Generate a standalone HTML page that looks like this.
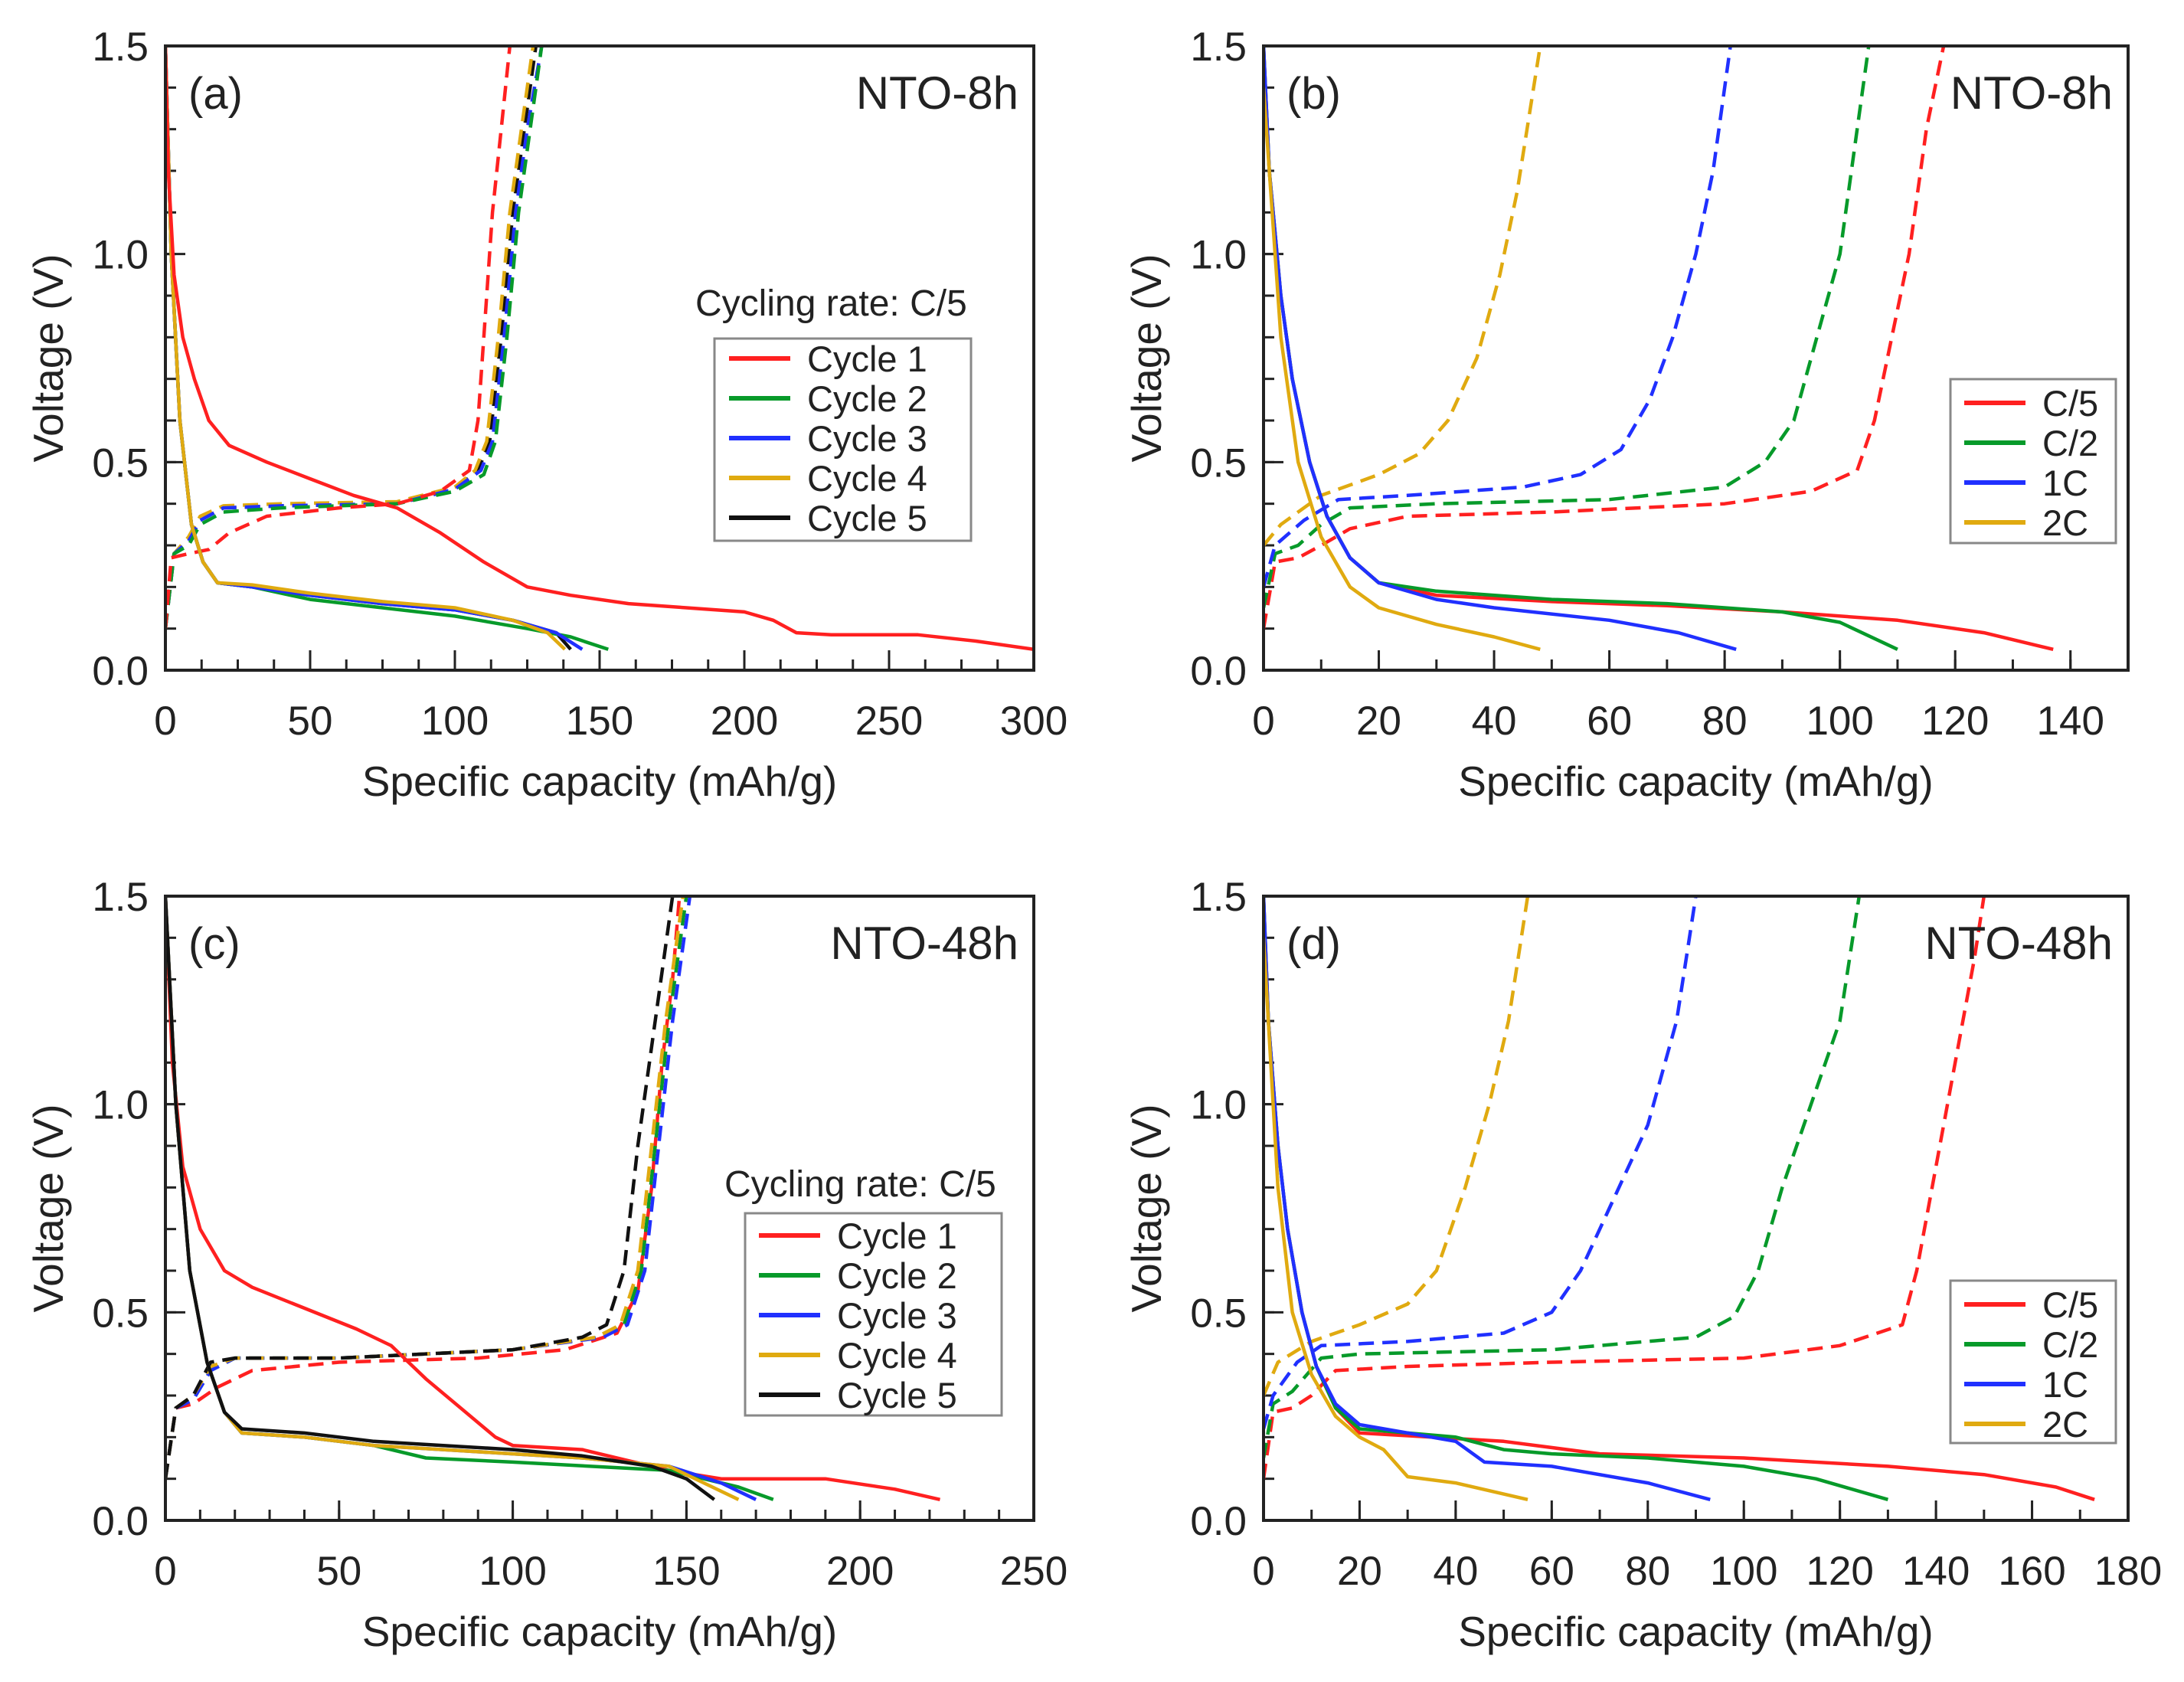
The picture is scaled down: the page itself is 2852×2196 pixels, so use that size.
<!DOCTYPE html>
<html><head><meta charset="utf-8">
<style>
html,body{margin:0;padding:0;background:#fff;}
svg{display:block;}
text{font-family:"Liberation Sans",Arial,sans-serif;fill:#222;}
</style></head>
<body>
<svg id="fig" width="2852" height="2196" viewBox="0 0 2852 2196" xmlns="http://www.w3.org/2000/svg"></svg>
<script>
// ---------- DATA ----------
const aDis1X=[0,1,3,6,10,15,22,35,50,65,80,95,110,125,140,160,180,200,210,218,230,260,280,300];
const aDis1Y=[1.5,1.2,0.95,0.8,0.7,0.6,0.54,0.5,0.46,0.42,0.39,0.33,0.26,0.2,0.18,0.16,0.15,0.14,0.12,0.09,0.085,0.085,0.07,0.05];
const aChg1X=[0,2,8,15,22,35,60,80,95,105,108,110,113,116,119];
const aChg1Y=[0.1,0.27,0.28,0.29,0.33,0.37,0.39,0.4,0.43,0.48,0.6,0.8,1.1,1.3,1.5];
const aDis2X=[0,2,5,9,13,18,30,50,75,100,125,140,153];
const aDis2Y=[1.5,1.0,0.6,0.35,0.26,0.21,0.2,0.17,0.15,0.13,0.1,0.08,0.05];
const aDis3X=[0,2,5,9,13,18,30,50,75,100,120,135,144];
const aDis3Y=[1.5,1.0,0.6,0.35,0.26,0.21,0.2,0.18,0.16,0.145,0.12,0.09,0.05];
const aDis4X=[0,2,5,9,13,18,30,50,75,100,120,132,138];
const aDis4Y=[1.5,1.0,0.6,0.35,0.26,0.21,0.205,0.185,0.165,0.15,0.12,0.09,0.05];
const aDis5X=[0,2,5,9,13,18,30,50,75,100,120,135,140];
const aDis5Y=[1.5,1.0,0.6,0.35,0.26,0.21,0.2,0.18,0.16,0.145,0.12,0.09,0.05];
const aChg2X=[0,3,8,12,20,40,80,100,110,114,118,122,126,130];
const aChg2Y=[0.1,0.28,0.3,0.35,0.38,0.39,0.4,0.43,0.47,0.55,0.8,1.1,1.3,1.5];
const aChg3X=[0,3,8,12,20,40,80,100,109,113,117,121,125,130];
const aChg3Y=[0.1,0.28,0.31,0.36,0.39,0.395,0.4,0.435,0.48,0.55,0.8,1.1,1.3,1.5];
const aChg4X=[0,3,8,12,20,40,80,100,107,111,115,119,123,127];
const aChg4Y=[0.1,0.28,0.32,0.37,0.395,0.4,0.405,0.44,0.48,0.55,0.8,1.1,1.3,1.5];
const aChg5X=[0,3,8,12,20,40,80,100,108,112,116,120,124,128];
const aChg5Y=[0.1,0.28,0.31,0.36,0.39,0.395,0.4,0.435,0.48,0.55,0.8,1.1,1.3,1.5];

const bDisC5X=[0,1,3,5,8,11,15,20,30,50,70,90,110,125,137];
const bDisC5Y=[1.5,1.2,0.9,0.7,0.5,0.37,0.27,0.21,0.18,0.165,0.155,0.14,0.12,0.09,0.05];
const bDisC2X=[0,1,3,5,8,11,15,20,30,50,70,90,100,110];
const bDisC2Y=[1.5,1.2,0.9,0.7,0.5,0.37,0.27,0.21,0.19,0.17,0.16,0.14,0.115,0.05];
const bDis1CX=[0,1,3,5,8,11,15,20,30,40,60,72,82];
const bDis1CY=[1.5,1.2,0.9,0.7,0.5,0.37,0.27,0.21,0.17,0.15,0.12,0.09,0.05];
const bDis2CX=[0,3,6,10,15,20,30,40,48];
const bDis2CY=[1.4,0.8,0.5,0.32,0.2,0.15,0.11,0.08,0.05];
const bChgC5X=[0,2,6,10,15,25,50,80,95,103,106,109,112,115,118];
const bChgC5Y=[0.1,0.26,0.27,0.3,0.34,0.37,0.38,0.4,0.43,0.48,0.6,0.8,1.0,1.3,1.5];
const bChgC2X=[0,2,6,10,15,30,60,80,87,92,96,100,103,105];
const bChgC2Y=[0.15,0.28,0.3,0.35,0.39,0.4,0.41,0.44,0.5,0.6,0.8,1.0,1.3,1.5];
const bChg1CX=[0,2,7,13,25,45,55,62,67,71,75,78,81];
const bChg1CY=[0.2,0.3,0.36,0.41,0.42,0.44,0.47,0.53,0.65,0.8,1.0,1.2,1.5];
const bChg2CX=[0,3,10,20,27,32,37,41,44,48];
const bChg2CY=[0.3,0.35,0.42,0.47,0.52,0.6,0.75,0.95,1.15,1.5];

const cDis1X=[0,2,5,10,17,25,40,55,65,75,85,95,100,120,145,160,190,210,223];
const cDis1Y=[1.5,1.1,0.85,0.7,0.6,0.56,0.51,0.46,0.42,0.34,0.27,0.2,0.18,0.17,0.12,0.1,0.1,0.075,0.05];
const cChg1X=[0,3,8,15,25,50,90,115,130,136,140,143,146,148];
const cChg1Y=[0.1,0.27,0.28,0.32,0.36,0.38,0.39,0.41,0.45,0.55,0.8,1.1,1.3,1.5];
const cDis2X=[0,3,7,12,17,22,40,60,75,100,145,165,175];
const cDis2Y=[1.5,1.0,0.6,0.38,0.26,0.21,0.2,0.18,0.15,0.14,0.12,0.08,0.05];
const cDis3X=[0,3,7,12,17,22,40,60,80,100,120,145,160,170];
const cDis3Y=[1.5,1.0,0.6,0.38,0.26,0.21,0.2,0.18,0.17,0.16,0.15,0.13,0.09,0.05];
const cDis4X=[0,3,7,12,17,22,40,60,80,100,120,145,155,165];
const cDis4Y=[1.5,1.0,0.6,0.38,0.26,0.21,0.2,0.18,0.17,0.16,0.15,0.13,0.09,0.05];
const cDis5X=[0,3,7,12,17,22,40,60,80,100,120,140,150,158];
const cDis5Y=[1.5,1.0,0.6,0.38,0.26,0.22,0.21,0.19,0.18,0.17,0.155,0.13,0.1,0.05];
const cChg2X=[0,3,8,13,20,50,100,125,132,137,141,145,150];
const cChg2Y=[0.1,0.27,0.29,0.36,0.39,0.39,0.41,0.44,0.47,0.6,0.9,1.2,1.5];
const cChg3X=[0,3,8,13,20,50,100,126,133,138,142,146,151];
const cChg3Y=[0.1,0.27,0.29,0.36,0.39,0.39,0.41,0.44,0.47,0.6,0.9,1.2,1.5];
const cChg4X=[0,3,8,13,20,50,100,124,131,136,140,144,149];
const cChg4Y=[0.1,0.27,0.3,0.37,0.39,0.39,0.41,0.44,0.47,0.6,0.9,1.2,1.5];
const cChg5X=[0,3,8,13,20,50,100,120,127,132,136,141,146];
const cChg5Y=[0.1,0.27,0.3,0.38,0.39,0.39,0.41,0.44,0.47,0.6,0.9,1.2,1.5];

const dDisC5X=[0,1,3,5,8,11,15,20,35,50,70,100,130,150,165,173];
const dDisC5Y=[1.5,1.2,0.9,0.7,0.5,0.37,0.27,0.21,0.2,0.19,0.16,0.15,0.13,0.11,0.08,0.05];
const dDisC2X=[0,1,3,5,8,11,15,20,40,50,60,80,100,115,130];
const dDisC2Y=[1.5,1.2,0.9,0.7,0.5,0.37,0.27,0.22,0.2,0.17,0.16,0.15,0.13,0.1,0.05];
const dDis1CX=[0,1,3,5,8,11,15,20,30,40,46,60,80,93];
const dDis1CY=[1.5,1.2,0.9,0.7,0.5,0.37,0.28,0.23,0.21,0.19,0.14,0.13,0.09,0.05];
const dDis2CX=[0,3,6,10,15,20,25,30,40,55];
const dDis2CY=[1.4,0.8,0.5,0.35,0.25,0.2,0.17,0.105,0.09,0.05];
const dChgC5X=[0,2,6,10,15,30,60,100,120,133,136,140,144,148,150];
const dChgC5Y=[0.1,0.26,0.27,0.3,0.36,0.37,0.38,0.39,0.42,0.47,0.6,0.85,1.1,1.35,1.5];
const dChgC2X=[0,2,6,12,20,60,90,98,103,108,114,120,124];
const dChgC2Y=[0.15,0.28,0.31,0.39,0.4,0.41,0.44,0.49,0.6,0.8,1.0,1.2,1.5];
const dChg1CX=[0,2,7,12,30,50,60,66,72,80,86,90];
const dChg1CY=[0.22,0.3,0.38,0.42,0.43,0.45,0.5,0.6,0.75,0.95,1.2,1.5];
const dChg2CX=[0,3,10,20,30,36,42,47,51,55];
const dChg2CY=[0.3,0.38,0.43,0.47,0.52,0.6,0.8,1.0,1.2,1.5];

const xTicksA=[0,50,100,150,200,250,300];
const xTicksB=[0,20,40,60,80,100,120,140];
const xTicksC=[0,50,100,150,200,250];
const xTicksD=[0,20,40,60,80,100,120,140,160,180];
const yTicks=[0.0,0.5,1.0,1.5];

// ---------- DRAW ----------
const NS="http://www.w3.org/2000/svg";
const svg=document.getElementById('fig');
const RED="#ff2020",GREEN="#079a2a",BLUE="#2030ff",YEL="#e0aa10",BLK="#111";
function mk(tag,attrs,parent){const e=document.createElementNS(NS,tag);for(const k in attrs)e.setAttribute(k,attrs[k]);(parent||svg).appendChild(e);return e;}

function panel(cfg){
  const g=mk('g',{});
  
  
  const L=cfg.x0,R=cfg.x1,T=cfg.y0,B=cfg.y1;
  const sx=v=>L+(v-cfg.xmin)/(cfg.xmax-cfg.xmin)*(R-L);
  const sy=v=>B-(v/1.5)*(B-T);
  const clip=mk('clipPath',{id:'clip'+cfg.id},g);
  mk('rect',{x:L,y:T-2,width:R-L,height:B-T+4},clip);
  for(let v=cfg.xmin;v<=cfg.xmax+1e-6;v+=cfg.xminor){
    const t=mk('line',{x1:sx(v),x2:sx(v),y1:B,y2:B-14,stroke:'#222','stroke-width':3},g);
    
    
  }
  for(let v=0;v<=1.5+1e-6;v+=0.1){
    const t=mk('line',{x1:L,x2:L+14,y1:sy(v),y2:sy(v),stroke:'#222','stroke-width':3},g);
    
    
  }
  cfg.xticks.forEach(v=>{
    const t=mk('line',{x1:sx(v),x2:sx(v),y1:B,y2:B-26,stroke:'#222','stroke-width':3},g);
    
    
    const lb=mk('text',{x:sx(v),y:B+84,'text-anchor':'middle','font-size':53},g);
    lb.textContent=String(v);
    
    
  });
  yTicks.forEach(v=>{
    const t=mk('line',{x1:L,x2:L+26,y1:sy(v),y2:sy(v),stroke:'#222','stroke-width':3},g);
    
    
    const lb=mk('text',{x:L-22,y:sy(v)+19,'text-anchor':'end','font-size':53},g);
    lb.textContent=v.toFixed(1);
    
    
  });
  const sg=mk('g',{'clip-path':'url(#clip'+cfg.id+')'},g);
  cfg.series.forEach(s=>{
    const d=s.x.map((v,i)=>(i?'L':'M')+sx(v).toFixed(1)+' '+sy(s.y[i]).toFixed(1)).join(' ');
    const p=mk('path',{d:d,fill:'none',stroke:s.c,'stroke-width':4.5,'stroke-linejoin':'round'},sg);
    if(s.dash)p.setAttribute('stroke-dasharray','20 11');
    
    
  });
  const fr=mk('rect',{x:L,y:T,width:R-L,height:B-T,fill:'none',stroke:'#222','stroke-width':4},g);
  
  
  const pl=mk('text',{x:L+30,y:T+82,'font-size':58},g);
  pl.textContent=cfg.label;
  
  
  const st=mk('text',{x:R-20,y:T+82,'text-anchor':'end','font-size':60},g);
  st.textContent=cfg.sample;
  
  
  const xt=mk('text',{x:(L+R)/2,y:B+164,'text-anchor':'middle','font-size':55},g);
  xt.textContent='Specific capacity (mAh/g)';
  
  
  const yt=mk('text',{x:0,y:0,'text-anchor':'middle','font-size':55,transform:'translate('+(L-134)+','+((T+B)/2)+') rotate(-90)'},g);
  yt.textContent='Voltage (V)';
  
  
  const lg=cfg.legend;
  const lgG=mk('g',{},g);
  
  
  if(lg.title){
    const tt=mk('text',{x:lg.tx,y:lg.ty,'font-size':48},lgG);
    tt.textContent=lg.title;
    
    
  }
  mk('rect',{x:lg.bx,y:lg.by,width:lg.bw,height:lg.bh,fill:'#fff',stroke:'#888','stroke-width':3},lgG);
  lg.items.forEach((it,i)=>{
    const y=lg.y0+i*lg.dy;
    const ln=mk('line',{x1:lg.lx,x2:lg.lx+80,y1:y,y2:y,stroke:it[1],'stroke-width':6},lgG);
    
    
    const tx=mk('text',{x:lg.lx+102,y:y+17,'font-size':47},lgG);
    tx.textContent=it[0];
    
    
  });
}

const cycItems=[['Cycle 1',RED],['Cycle 2',GREEN],['Cycle 3',BLUE],['Cycle 4',YEL],['Cycle 5',BLK]];
const rateItems=[['C/5',RED],['C/2',GREEN],['1C',BLUE],['2C',YEL]];

panel({id:'a',name:'panel-a',x0:216,x1:1350,y0:60,y1:875,xmin:0,xmax:300,xminor:12.5,xticks:xTicksA,label:'(a)',sample:'NTO-8h',
 series:[
  {n:'cycle5-charge',x:aChg5X,y:aChg5Y,c:BLK,dash:1},{n:'cycle4-charge',x:aChg4X,y:aChg4Y,c:YEL,dash:1},
  {n:'cycle3-charge',x:aChg3X,y:aChg3Y,c:BLUE,dash:1},{n:'cycle2-charge',x:aChg2X,y:aChg2Y,c:GREEN,dash:1},
  {n:'cycle1-charge',x:aChg1X,y:aChg1Y,c:RED,dash:1},
  {n:'cycle5-discharge',x:aDis5X,y:aDis5Y,c:BLK},{n:'cycle2-discharge',x:aDis2X,y:aDis2Y,c:GREEN},
  {n:'cycle3-discharge',x:aDis3X,y:aDis3Y,c:BLUE},{n:'cycle4-discharge',x:aDis4X,y:aDis4Y,c:YEL},
  {n:'cycle1-discharge',x:aDis1X,y:aDis1Y,c:RED}],
 legend:{title:'Cycling rate: C/5',tx:908,ty:412,bx:933,by:442,bw:335,bh:264,lx:952,y0:468,dy:52,items:cycItems}});

panel({id:'b',name:'panel-b',x0:1650,x1:2779,y0:60,y1:875,xmin:0,xmax:150,xminor:10,xticks:xTicksB,label:'(b)',sample:'NTO-8h',
 series:[
  {n:'c5-charge',x:bChgC5X,y:bChgC5Y,c:RED,dash:1},{n:'c2-charge',x:bChgC2X,y:bChgC2Y,c:GREEN,dash:1},
  {n:'1c-charge',x:bChg1CX,y:bChg1CY,c:BLUE,dash:1},{n:'2c-charge',x:bChg2CX,y:bChg2CY,c:YEL,dash:1},
  {n:'c5-discharge',x:bDisC5X,y:bDisC5Y,c:RED},{n:'c2-discharge',x:bDisC2X,y:bDisC2Y,c:GREEN},
  {n:'1c-discharge',x:bDis1CX,y:bDis1CY,c:BLUE},{n:'2c-discharge',x:bDis2CX,y:bDis2CY,c:YEL}],
 legend:{bx:2547,by:495,bw:216,bh:214,lx:2565,y0:526,dy:52,items:rateItems}});

panel({id:'c',name:'panel-c',x0:216,x1:1350,y0:1170,y1:1985,xmin:0,xmax:250,xminor:10,xticks:xTicksC,label:'(c)',sample:'NTO-48h',
 series:[
  {n:'cycle1-charge',x:cChg1X,y:cChg1Y,c:RED,dash:1},{n:'cycle2-charge',x:cChg2X,y:cChg2Y,c:GREEN,dash:1},
  {n:'cycle3-charge',x:cChg3X,y:cChg3Y,c:BLUE,dash:1},{n:'cycle4-charge',x:cChg4X,y:cChg4Y,c:YEL,dash:1},
  {n:'cycle5-charge',x:cChg5X,y:cChg5Y,c:BLK,dash:1},
  {n:'cycle1-discharge',x:cDis1X,y:cDis1Y,c:RED},{n:'cycle2-discharge',x:cDis2X,y:cDis2Y,c:GREEN},
  {n:'cycle3-discharge',x:cDis3X,y:cDis3Y,c:BLUE},{n:'cycle4-discharge',x:cDis4X,y:cDis4Y,c:YEL},
  {n:'cycle5-discharge',x:cDis5X,y:cDis5Y,c:BLK}],
 legend:{title:'Cycling rate: C/5',tx:946,ty:1562,bx:973,by:1584,bw:335,bh:264,lx:991,y0:1613,dy:52,items:cycItems}});

panel({id:'d',name:'panel-d',x0:1650,x1:2779,y0:1170,y1:1985,xmin:0,xmax:180,xminor:10,xticks:xTicksD,label:'(d)',sample:'NTO-48h',
 series:[
  {n:'c5-charge',x:dChgC5X,y:dChgC5Y,c:RED,dash:1},{n:'c2-charge',x:dChgC2X,y:dChgC2Y,c:GREEN,dash:1},
  {n:'1c-charge',x:dChg1CX,y:dChg1CY,c:BLUE,dash:1},{n:'2c-charge',x:dChg2CX,y:dChg2CY,c:YEL,dash:1},
  {n:'c5-discharge',x:dDisC5X,y:dDisC5Y,c:RED},{n:'c2-discharge',x:dDisC2X,y:dDisC2Y,c:GREEN},
  {n:'1c-discharge',x:dDis1CX,y:dDis1CY,c:BLUE},{n:'2c-discharge',x:dDis2CX,y:dDis2CY,c:YEL}],
 legend:{bx:2547,by:1672,bw:216,bh:212,lx:2565,y0:1703,dy:52,items:rateItems}});
</script>
</body></html>
